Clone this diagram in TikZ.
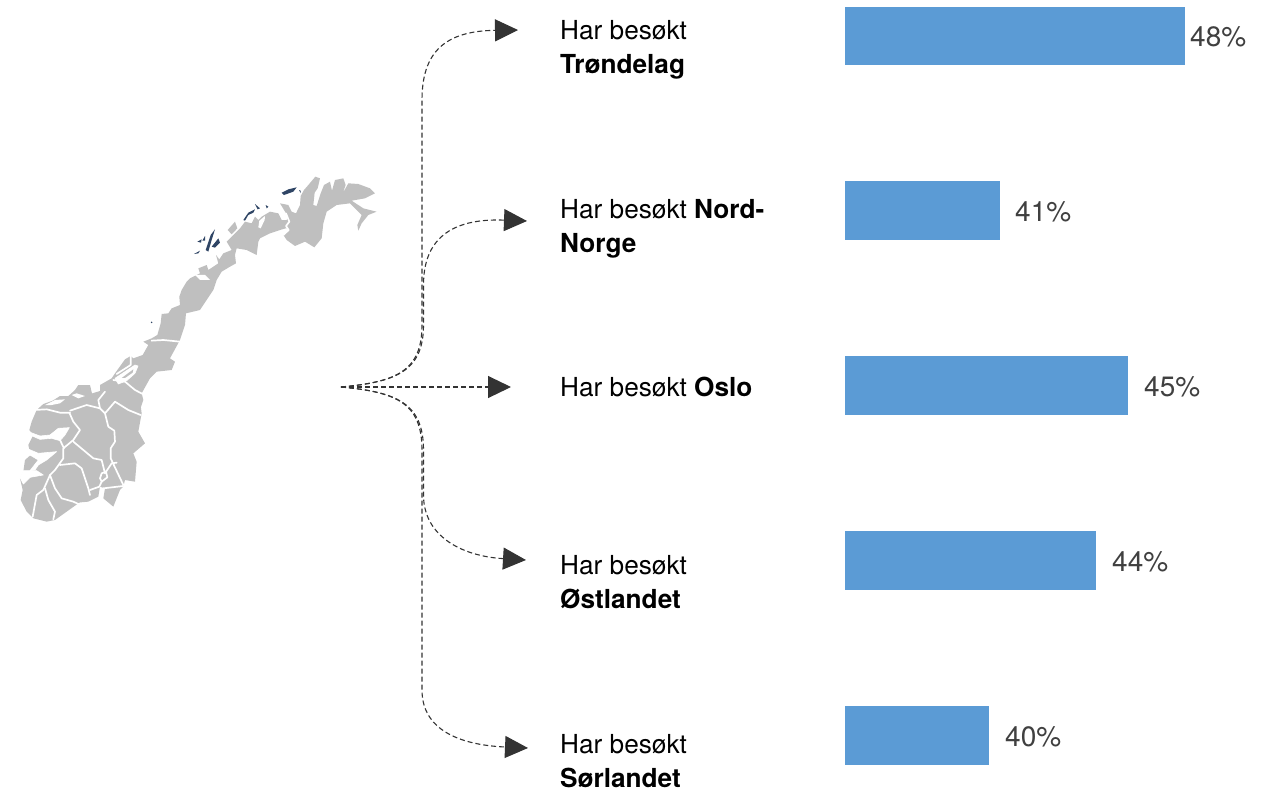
\documentclass[tikz,border=0pt]{standalone}
\usepackage{fontspec}
\setmainfont{TeX Gyre Heros}
\usetikzlibrary{arrows.meta}
\definecolor{barblue}{HTML}{5B9BD5}
\definecolor{land}{HTML}{BFBFBF}
\definecolor{isle}{HTML}{2F4565}
\definecolor{ink}{HTML}{333333}
\definecolor{pct}{HTML}{404040}
\tikzset{
  bar/.style={fill=barblue,draw=none,inner sep=0,anchor=north west},
  lab/.style={anchor=west,align=left,inner sep=0,text=black,font=\fontsize{26.2}{33.7}\selectfont},
  pctlab/.style={anchor=west,inner sep=0,text=pct,font=\fontsize{28}{32}\selectfont},
  conn/.style={draw=ink,line width=1.1pt,dash pattern=on 5pt off 3pt,-{Triangle[length=23pt,width=22pt,fill=ink]}},
  border/.style={draw=white,line width=1.7pt,line join=round,line cap=round},
  fjord/.style={draw=white,line width=0.6pt,fill=white,line join=round},
  cropE/.style={shift={(280pt,-170pt)},x=0.3333pt,y=-0.3333pt},
  cropW/.style={shift={(190pt,-200pt)},x=0.3333pt,y=-0.3333pt},
  cropM/.style={shift={(100pt,-290pt)},x=0.3333pt,y=-0.3333pt},
  cropS/.style={shift={(10pt,-380pt)},x=0.3333pt,y=-0.3333pt},
  cropT/.style={shift={(70pt,-390pt)},x=0.3333pt,y=-0.3333pt},
}
\begin{document}
\begin{tikzpicture}[x=1pt,y=-1pt]
\useasboundingbox (0,0) rectangle (1271,788);
% land first
\begin{scope}[cropE]
\fill[land] (0,100)--(25,105)--(35,125)--(48,130)--(60,105)--(62,78)--(72,60)--(85,45)--(106,20)--(120,25)--(113,55)--(104,68)--(100,105)--(110,108)--(122,70)--(132,45)--(150,35)--(156,62)--(165,30)--(190,25)--(197,45)--(188,70)--(205,40)--(235,42)--(270,55)--(285,70)--(255,85)--(215,92)--(250,115)--(290,125)--(265,135)--(245,160)--(235,182)--(232,165)--(245,135)--(210,100)--(170,105)--(140,125)--(130,160)--(125,205)--(103,232)--(75,215)--(45,228)--(20,210)--(10,195)--(26,180)--(18,168)--(28,155)--(18,130)--cycle;
\end{scope}
\begin{scope}[cropW]
\fill[land] (130,105)--(150,85)--(165,65)--(185,70)--(195,50)--(205,60)--(215,50)--(240,35)--(265,40)--(275,60)--(290,60)--(300,40)--(320,60)--(308,70)--(312,85)--(287,85)--(270,90)--(240,100)--(210,115)--(205,125)--(200,165)--(170,150)--(140,145)--(135,165)--(138,190)--(120,200)--(95,215)--(80,240)--(70,270)--(-25,270)--(-10,245)--(0,235)--(30,220)--(25,205)--(50,195)--(55,210)--(85,190)--(78,165)--(88,178)--(100,160)--(125,150)--(110,125)--cycle;
\fill[land] (113,90)--(135,65)--(142,85)--(125,103)--cycle;
\end{scope}
\begin{scope}[cropM]
\fill[land] (340,0)--(300,60)--(258,70)--(255,105)--(240,150)--(210,205)--(225,215)--(215,240)--(170,245)--(150,265)--(125,310)--(130,330)--(120,360)--(0,360)--(0,285)--(35,265)--(45,250)--(75,208)--(92,198)--(100,205)--(128,195)--(145,165)--(130,155)--(155,145)--(172,135)--(182,100)--(185,72)--(205,70)--(215,55)--(240,45)--(238,20)--(245,0)--cycle;
\end{scope}
\begin{scope}[cropS]
\fill[land] (240,15)--(205,15)--(195,30)--(175,48)--(150,48)--(128,62)--(100,72)--(80,90)--(65,125)--(58,150)--(70,165)--(55,195)--(62,225)--(45,240)--(40,275)--(30,295)--(38,330)--(32,360)--(50,395)--(70,415)--(110,425)--(135,420)--(240,345)--(260,100)--cycle;
\end{scope}
\begin{scope}[cropT]
\fill[land] (0,30)--(100,0)--(215,0)--(210,30)--(215,70)--(205,125)--(225,160)--(190,190)--(200,215)--(195,275)--(165,270)--(160,290)--(150,300)--(130,350)--(100,325)--(105,295)--(90,290)--(85,320)--(55,335)--(0,340)--cycle;
\end{scope}
% islands and county lines
\begin{scope}[cropE]
\fill[isle] (5,68)--(25,58)--(50,52)--(40,65)--(12,75)--cycle (57,60)--(62,62)--(62,69)--cycle;
\draw[border] (18,130)--(28,155)--(18,168)--(26,180)--(10,195);
\end{scope}
\begin{scope}[cropW]
\fill[isle] (12,162)--(30,152)--(25,160)--cycle (22,125)--(35,118)--(33,128)--cycle (37,122)--(45,108)--(45,122)--cycle;
\fill[isle] (47,150)--(62,105)--(75,88)--(65,120)--(55,155)--cycle (65,140)--(85,115)--(90,128)--(75,143)--cycle;
\fill[isle] (160,60)--(175,38)--(195,28)--(190,38)--(175,45)--(165,62)--cycle (195,12)--(210,25)--(203,28)--cycle (227,15)--(235,20)--(230,25)--cycle;
\fill[white] (208,62)--(225,48)--(224,60)--(212,85)--(205,82)--cycle;
\fill[white] (60,240)--(30,240)--(15,225)--(45,225)--cycle;
\end{scope}
\begin{scope}[cropM]
\fill[isle] (155,97) circle (2.5);
\draw[border] (155,152)--(190,150)--(240,155);
\draw[border] (92,198)--(92,225)--(50,252);
\fill[fjord] (45,265)--(105,225)--(114,228)--(105,250)--(80,272)--(55,282)--cycle;
\fill[land] (65,264)--(100,238)--(98,248)--(75,264)--cycle;
\draw[border] (40,270)--(75,275)--(105,300)--(128,312);
\end{scope}
\begin{scope}[cropS]
\draw[border] (70,90)--(110,88)--(150,98)--(180,98);
\fill[white] (105,75)--(135,60)--(165,58)--(150,70)--(125,75)--cycle;
\fill[white] (185,45)--(200,40)--(225,48)--(205,55)--cycle;
\fill[fjord] (55,155)--(90,168)--(120,165)--(145,145)--(178,143)--(165,165)--(150,182)--(125,175)--(90,178)--(60,165)--cycle;
\draw[border] (150,180)--(162,205);
\fill[fjord] (50,205)--(85,220)--(140,215)--(110,240)--(85,255)--(75,270)--(60,272)--(85,240)--(55,222)--cycle;
\fill[fjord] (30,292)--(40,272)--(80,272)--(100,285)--(60,292)--(40,312)--cycle;
\draw[border] (178,98)--(190,125)--(210,150)--(190,180)--(160,205)--(160,235)--(135,270)--(120,285)--(100,330)--(80,345)--(68,410);
\draw[border] (150,255)--(195,250)--(215,265)--(235,325)--(240,345);
\draw[border] (120,285)--(135,325)--(155,355)--(190,365)--(218,378);
\draw[border] (105,325)--(115,360)--(135,395)--(130,418);
\end{scope}
\begin{scope}[cropT]
\draw[border] (0,62)--(50,45)--(90,55)--(105,70)--(115,110)--(133,122)--(135,155)--(122,175)--(122,205)--(160,285);
\draw[border] (90,55)--(85,30)--(105,5);
\draw[border] (105,70)--(135,35)--(175,60)--(212,75);
\draw[border] (10,155)--(70,205)--(95,210)--(105,250)--(125,220)--(140,218);
\draw[border] (95,250)--(108,245)--(112,262)--(95,275)--(90,265)--cycle;
\draw[border] (95,275)--(88,290)--(60,300);
\draw[border] (100,295)--(160,288);
\end{scope}
% bars
\node[bar,minimum width=340pt,minimum height=58pt] (b1) at (845,7) {};
\node[bar,minimum width=155pt,minimum height=59pt] (b2) at (845,181) {};
\node[bar,minimum width=283pt,minimum height=59pt] (b3) at (845,356) {};
\node[bar,minimum width=251pt,minimum height=59pt] (b4) at (845,531) {};
\node[bar,minimum width=144pt,minimum height=59pt] (b5) at (845,706) {};
% values
\node[pctlab] (p1) at (1190,37) {48\%};
\node[pctlab] (p2) at (1015,212) {41\%};
\node[pctlab] (p3) at (1144,387) {45\%};
\node[pctlab] (p4) at (1112,562) {44\%};
\node[pctlab] (p5) at (1005,737) {40\%};
% labels
\node[lab] (l1) at (560,49.5) {Har besøkt\\\textbf{Trøndelag}};
\node[lab] (l2) at (560,229) {Har besøkt \textbf{Nord-}\\\textbf{Norge}};
\node[lab] (l3) at (560,387) {Har besøkt \textbf{Oslo}};
\node[lab] (l4) at (560,582) {Har besøkt\\\textbf{Østlandet}};
\node[lab] (l5) at (560,761) {Har besøkt\\\textbf{Sørlandet}};
% connectors
\coordinate (src) at (341,387);
\coordinate (t1) at (518,30);
\coordinate (t2) at (527,221);
\coordinate (t3) at (511,387);
\coordinate (t4) at (526,560);
\coordinate (t5) at (528,748);
\draw[conn] (src) .. controls (395,382) and (422,372) .. (422,325) -- (422,100) .. controls (422,52) and (445,31) .. (t1);
\draw[conn] (src) .. controls (395,382) and (423.5,372) .. (423.5,325) -- (423.5,285) .. controls (423.5,240) and (450,218) .. (t2);
\draw[conn] (src) -- (t3);
\draw[conn] (src) .. controls (395,392) and (423.5,402) .. (423.5,450) -- (423.5,495) .. controls (423.5,535) and (460,556) .. (t4);
\draw[conn] (src) .. controls (395,392) and (422,402) .. (422,450) -- (422,690) .. controls (422,730) and (460,745) .. (t5);
\end{tikzpicture}
\end{document}
